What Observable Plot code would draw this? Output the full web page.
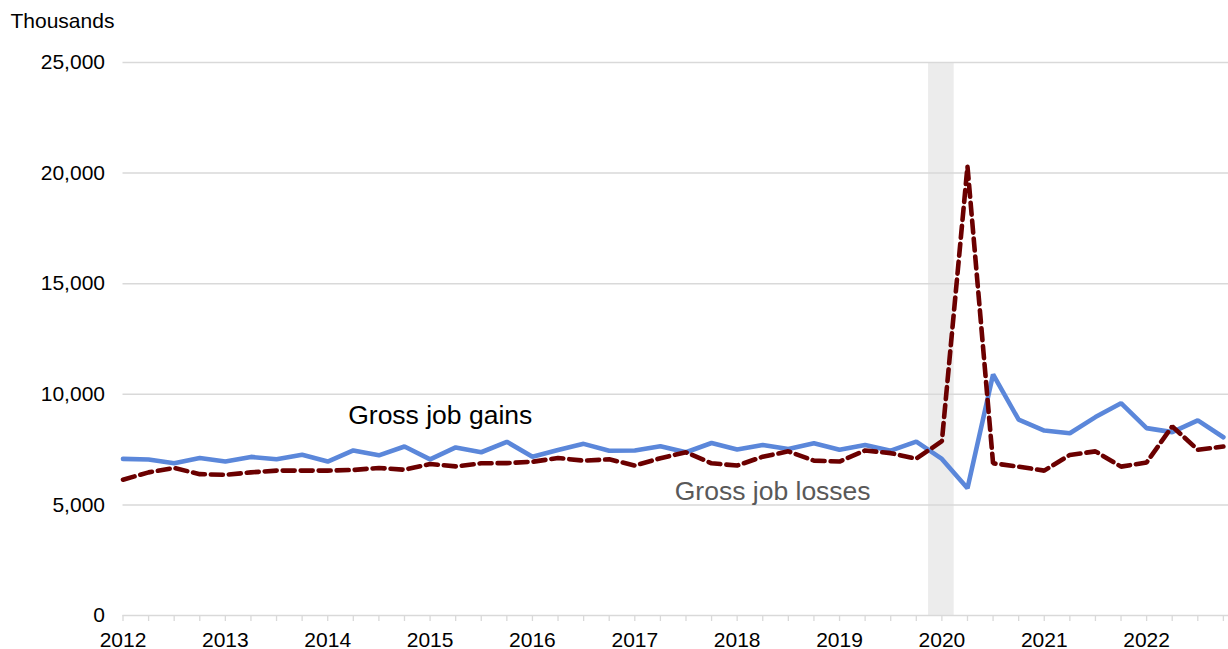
<!DOCTYPE html>
<html>
<head>
<meta charset="utf-8">
<script src="https://cdn.jsdelivr.net/npm/d3@7"></script>
<script src="https://cdn.jsdelivr.net/npm/@observablehq/plot@0.6"></script>
<style>
  html, body { margin: 0; padding: 0; background: #fff; }
  #chart svg { display: block; overflow: visible; }
</style>
</head>
<body>
<div id="chart"></div>
<script>
const quarters = [
  "2012Q1","2012Q2","2012Q3","2012Q4","2013Q1","2013Q2","2013Q3","2013Q4",
  "2014Q1","2014Q2","2014Q3","2014Q4","2015Q1","2015Q2","2015Q3","2015Q4",
  "2016Q1","2016Q2","2016Q3","2016Q4","2017Q1","2017Q2","2017Q3","2017Q4",
  "2018Q1","2018Q2","2018Q3","2018Q4","2019Q1","2019Q2","2019Q3","2019Q4",
  "2020Q1","2020Q2","2020Q3","2020Q4","2021Q1","2021Q2","2021Q3","2021Q4",
  "2022Q1","2022Q2","2022Q3","2022Q4"
];
const gains = [7080, 7050, 6880, 7120, 6960, 7170, 7060, 7270, 6960, 7460, 7240, 7640,
  7060, 7600, 7380, 7850, 7180, 7480, 7760, 7450, 7460, 7650, 7380, 7800,
  7500, 7710, 7530, 7790, 7490, 7710, 7450, 7860, 7080, 5750, 10900, 8850,
  8360, 8240, 8970, 9600, 8470, 8290, 8820, 8060];
const losses = [6140, 6470, 6670, 6390, 6360, 6470, 6550, 6550, 6550, 6580, 6670, 6590,
  6850, 6740, 6880, 6890, 6950, 7120, 7000, 7060, 6780, 7110, 7380, 6880,
  6780, 7180, 7420, 7000, 6960, 7460, 7340, 7090, 7880, 20300, 6880, 6730,
  6550, 7260, 7420, 6730, 6920, 8550, 7490, 7640];
const yearTicks = [2012, 2013, 2014, 2015, 2016, 2017, 2018, 2019, 2020, 2021, 2022];
const yTicks = [0, 5000, 10000, 15000, 20000, 25000];
const recession = [{start: 2019.87, end: 2020.12}];
const seriesLabels = [
  {name: "Gross job gains", x: 2014.2, y: 8660, color: "#000000"},
  {name: "Gross job losses", x: 2017.39, y: 5230, color: "#595959"}
];
const unitLabel = "Thousands";

const toNum = q => +q.slice(0, 4) + (+q.slice(5) - 1) / 4;
const gainsData = quarters.map((q, i) => ({x: toNum(q), v: gains[i]}));
const lossesData = quarters.map((q, i) => ({x: toNum(q), v: losses[i]}));
const quarterTicks = quarters.map(toNum);

const font = "'Liberation Sans', Arial, Helvetica, sans-serif";
const grey = "#d9d9d9";

const chart = Plot.plot({
  width: 1228,
  height: 649,
  marginLeft: 122.5,
  marginRight: 0,
  marginTop: 62,
  marginBottom: 34,
  style: {fontFamily: font, fontSize: "21px", color: "#000", background: "#fff"},
  x: {domain: [2012, 2022.8], axis: null},
  y: {domain: [0, 25000], axis: null},
  marks: [
    Plot.rectX(recession, {x1: "start", x2: "end", fill: "#ececec"}),
    Plot.gridY(yTicks.filter(d => d > 0), {stroke: grey, strokeOpacity: 1, strokeWidth: 1.5}),
    Plot.ruleY([0], {stroke: grey, strokeWidth: 1.5}),
    Plot.axisX(quarterTicks, {tickSize: 6, stroke: grey, strokeWidth: 1.3, tickFormat: () => ""}),
    Plot.axisX(yearTicks, {tickSize: 0, tickPadding: 16.5, tickFormat: d => String(d), fill: "#000", fontSize: 21}),
    Plot.axisY(yTicks, {tickSize: 0, tickPadding: 18, tickFormat: d3.format(","), fill: "#000", fontSize: 21}),
    Plot.lineY(gainsData, {x: "x", y: "v", stroke: "#5B87DA", strokeWidth: 4.6, strokeLinejoin: "miter"}),
    Plot.lineY(lossesData, {x: "x", y: "v", stroke: "#6B0000", strokeWidth: 4.6, strokeDasharray: "12,6", strokeLinejoin: "miter"}),
    Plot.text(seriesLabels, {x: "x", y: "y", text: "name", fill: "color", fontSize: 26.5, textAnchor: "start", lineAnchor: "bottom"}),
    Plot.text([unitLabel], {frameAnchor: "top-left", dx: -112.5, dy: -35, textAnchor: "start", lineAnchor: "bottom", fontSize: 21, fill: "#000"})
  ]
});
document.getElementById("chart").appendChild(chart);
</script>
</body>
</html>
